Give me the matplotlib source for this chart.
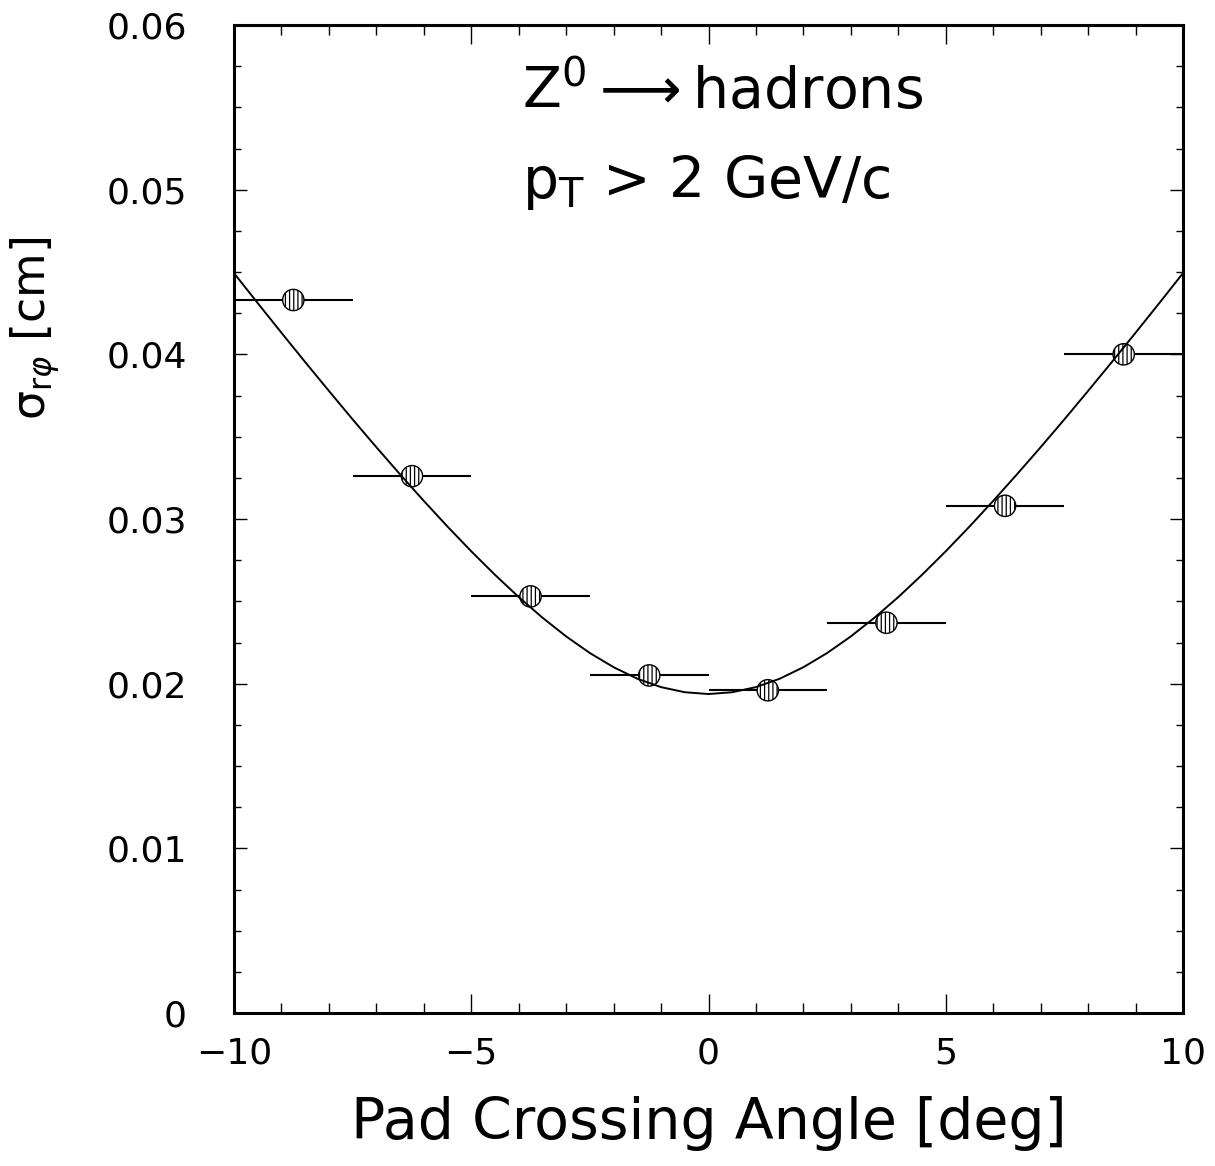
import matplotlib
matplotlib.use("Agg")
import matplotlib.pyplot as plt
from matplotlib.ticker import MultipleLocator, FixedLocator

# --- data ---
angle_centers = [-8.75, -6.25, -3.75, -1.25, 1.25, 3.75, 6.25, 8.75]
angle_halfwidth = [1.25] * 8
sigma_rphi = [0.0433, 0.0326, 0.0253, 0.0205, 0.0196, 0.0237, 0.0308, 0.0400]

fit_angle = [-10, -9.5, -9, -8.5, -8, -7.5, -7, -6.5, -6, -5.5, -5, -4.5, -4, -3.5,
             -3, -2.5, -2, -1.5, -1, -0.5, 0, 0.5, 1, 1.5, 2, 2.5, 3, 3.5, 4, 4.5,
             5, 5.5, 6, 6.5, 7, 7.5, 8, 8.5, 9, 9.5, 10]
fit_sigma = [0.04493, 0.04311, 0.04131, 0.03953, 0.03778, 0.03605, 0.03436, 0.03271,
             0.03110, 0.02954, 0.02804, 0.02661, 0.02526, 0.02401, 0.02287, 0.02186,
             0.02100, 0.02030, 0.01979, 0.01948, 0.01937, 0.01948, 0.01979, 0.02030,
             0.02100, 0.02186, 0.02287, 0.02401, 0.02526, 0.02661, 0.02804, 0.02954,
             0.03110, 0.03271, 0.03436, 0.03605, 0.03778, 0.03953, 0.04131, 0.04311,
             0.04493]

x_ticks = [-10, -5, 0, 5, 10]
x_ticklabels = ["\u221210", "\u22125", "0", "5", "10"]
y_ticks = [0, 0.01, 0.02, 0.03, 0.04, 0.05, 0.06]
y_ticklabels = ["0", "0.01", "0.02", "0.03", "0.04", "0.05", "0.06"]

plt.rcParams["font.family"] = ["DejaVu Sans"]
plt.rcParams["mathtext.fontset"] = "dejavusans"
plt.rcParams["hatch.linewidth"] = 0.9

fig = plt.figure(figsize=(12.15, 11.66), dpi=100)
W, H = 1215, 1166
ax = fig.add_axes([234 / W, 1 - 1013 / H, (1183 - 234) / W, (1013 - 25) / H])

ax.errorbar(angle_centers, sigma_rphi, xerr=angle_halfwidth, fmt="none",
            ecolor="black", elinewidth=1.5, capsize=0, zorder=2)
ax.scatter(angle_centers, sigma_rphi, s=235, facecolor="white", edgecolor="black",
           linewidth=1.0, hatch="||||", zorder=3)
ax.plot(fit_angle, fit_sigma, color="black", linewidth=1.4, zorder=4)

ax.set_xlim(-10, 10)
ax.set_ylim(0, 0.06)

ax.xaxis.set_major_locator(FixedLocator(x_ticks))
ax.set_xticklabels(x_ticklabels)
ax.xaxis.set_minor_locator(MultipleLocator(1))
ax.yaxis.set_major_locator(FixedLocator(y_ticks))
ax.set_yticklabels(y_ticklabels)
ax.yaxis.set_minor_locator(MultipleLocator(0.0025))

ax.tick_params(axis="both", which="both", direction="in", top=True, right=True,
               width=1.0, labelsize=26)
ax.tick_params(axis="x", which="major", length=14, pad=17)
ax.tick_params(axis="x", which="minor", length=7)
ax.tick_params(axis="y", which="major", length=9.5, pad=34)
ax.tick_params(axis="y", which="minor", length=5)
for s in ax.spines.values():
    s.set_linewidth(2.2)

ax.set_xlabel("Pad Crossing Angle [deg]", fontsize=41, labelpad=18)
fig.text(35 / W, 1 - 328 / H, "\u03c3$_{\\mathrm{r}\\varphi}$ [cm]", rotation=90,
         fontsize=33, ha="center", va="center")

ax.text(-3.93, 0.0549, r"Z$^{0}$$\longrightarrow$hadrons", fontsize=41,
        ha="left", va="baseline")
ax.text(-3.93, 0.0495, r"p$_{\mathrm{T}}$ > 2 GeV/c", fontsize=41,
        ha="left", va="baseline")

fig.savefig("out.png", dpi=100)
